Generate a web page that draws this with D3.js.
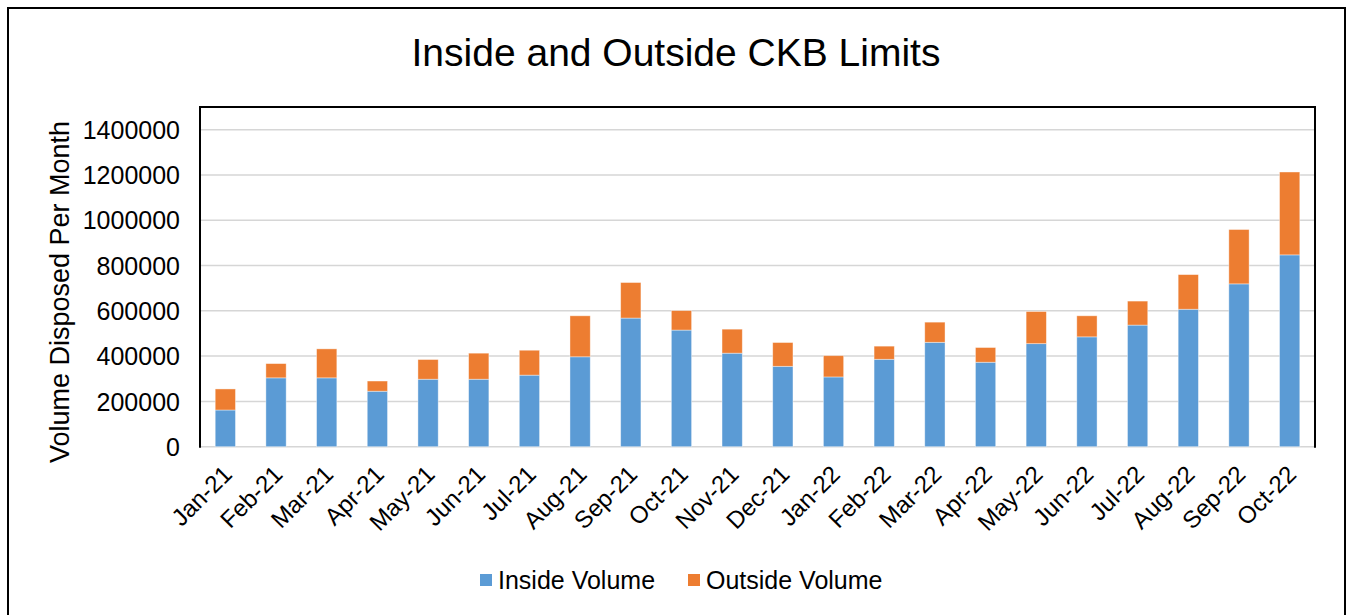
<!DOCTYPE html>
<html>
<head>
<meta charset="utf-8">
<script src="https://cdn.jsdelivr.net/npm/d3@7"></script>
<style>
  html, body { margin: 0; padding: 0; background: #fff; }
  svg { display: block; }
  text { font-family: "Liberation Sans", Arial, sans-serif; fill: #000; }
</style>
</head>
<body>
<svg id="chart" width="1351" height="615"></svg>
<script>
const months = ["Jan-21","Feb-21","Mar-21","Apr-21","May-21","Jun-21","Jul-21","Aug-21","Sep-21","Oct-21","Nov-21","Dec-21",
                "Jan-22","Feb-22","Mar-22","Apr-22","May-22","Jun-22","Jul-22","Aug-22","Sep-22","Oct-22"];
const insideVolume  = [162000,304000,304000,245000,298000,298000,316000,397000,568000,515000,413000,355000,
                       308000,386000,461000,373000,455000,485000,537000,607000,719000,847000];
const totalVolume   = [255000,367000,432000,290000,385000,413000,426000,578000,725000,601000,519000,460000,
                       402000,444000,550000,438000,597000,578000,643000,760000,959000,1213000];
const outsideVolume = totalVolume.map((t, i) => t - insideVolume[i]);
const yTicks = [0,200000,400000,600000,800000,1000000,1200000,1400000];
const seriesNames = ["Inside Volume","Outside Volume"];
const seriesColors = ["#5B9BD5","#ED7D31"];
const titleText = "Inside and Outside CKB Limits";
const yTitle = "Volume Disposed Per Month";

const svg = d3.select("#chart");
const plot = { left: 200, right: 1315, top: 107, bottom: 446.7 };

// outer border
svg.append("path")
  .attr("d", `M8,615 L8,8 L1345,8 L1345,615`)
  .attr("fill", "none").attr("stroke", "#000").attr("stroke-width", 2);

// title
svg.append("text")
  .attr("x", 676).attr("y", 66)
  .attr("text-anchor", "middle")
  .style("font-size", "39px")
  .text(titleText);

const x = d3.scaleBand().domain(months).range([plot.left, plot.right]).paddingInner(0.6).paddingOuter(0.3);
const y = d3.scaleLinear().domain([0, 1500000]).range([plot.bottom, plot.top]);

// gridlines
svg.append("g").selectAll("line").data(yTicks).join("line")
  .attr("x1", plot.left).attr("x2", plot.right)
  .attr("y1", d => y(d)).attr("y2", d => y(d))
  .attr("stroke", "#d6d6d6").attr("stroke-width", 1.5);

// stacked bars
const stackData = months.map((m, i) => ({ month: m, inside: insideVolume[i], outside: outsideVolume[i] }));
const stack = d3.stack().keys(["inside","outside"])(stackData);
svg.append("g").selectAll("g").data(stack).join("g")
  .attr("fill", (d, i) => seriesColors[i])
  .selectAll("rect").data(d => d).join("rect")
  .attr("x", d => x(d.data.month))
  .attr("width", x.bandwidth())
  .attr("y", d => y(d[1]))
  .attr("height", d => y(d[0]) - y(d[1]))
  .attr("stroke", "#fff").attr("stroke-opacity", 0.5).attr("stroke-width", 0.8);

// plot area border (left, top, right)
svg.append("path")
  .attr("d", `M${plot.left},${plot.bottom + 1} L${plot.left},${plot.top} L${plot.right},${plot.top} L${plot.right},${plot.bottom + 1}`)
  .attr("fill", "none").attr("stroke", "#000").attr("stroke-width", 2);

// y axis
const yAxis = d3.axisLeft(y).tickValues(yTicks).tickSize(0).tickPadding(0).tickFormat(d3.format("d"));
const gy = svg.append("g").attr("transform", `translate(180,0)`).call(yAxis);
gy.select(".domain").remove();
gy.selectAll("text").style("font-size", "25px").attr("dy", "0.35em").attr("fill", "#000");

// x axis
const xAxis = d3.axisBottom(x).tickSize(0).tickPadding(0);
const gx = svg.append("g").attr("transform", `translate(0,${plot.bottom})`).call(xAxis);
gx.select(".domain").remove();
gx.selectAll("text")
  .style("font-size", "24px")
  .attr("text-anchor", "end")
  .attr("dy", 0).attr("y", 0)
  .attr("transform", "translate(8,29) rotate(-45)")
  .attr("fill", "#000");

// y title
svg.append("text")
  .attr("transform", `translate(69,292) rotate(-90)`)
  .attr("text-anchor", "middle")
  .style("font-size", "27px")
  .text(yTitle);

// legend
const legendItems = [{ name: seriesNames[0], color: seriesColors[0], x: 480 }, { name: seriesNames[1], color: seriesColors[1], x: 688 }];
const lg = svg.append("g").selectAll("g").data(legendItems).join("g")
  .attr("transform", d => `translate(${d.x},580)`);
lg.append("rect").attr("x", 0).attr("y", -6).attr("width", 12).attr("height", 12).attr("fill", d => d.color);
lg.append("text").attr("x", 18).attr("y", 0).attr("dy", "0.35em").style("font-size", "25px").text(d => d.name);
</script>
</body>
</html>
